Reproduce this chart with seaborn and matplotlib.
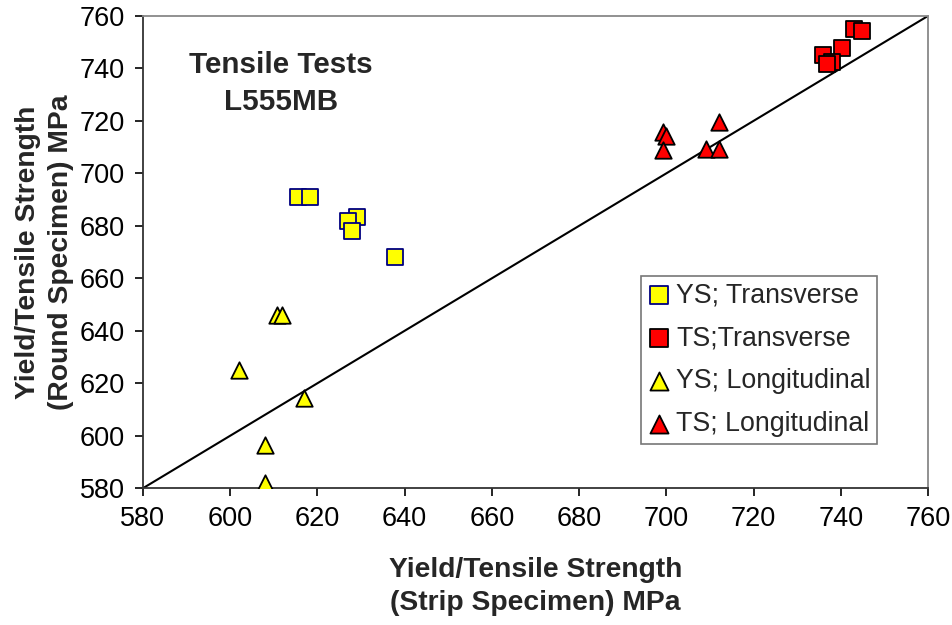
import pandas as pd
import matplotlib.pyplot as plt
import seaborn as sns

# Strip specimen (x) vs round specimen (y), MPa
ys_trans_x = [615.6, 618.3, 629.2, 627.0, 627.9, 637.8]
ys_trans_y = [691.0, 691.0, 683.2, 681.8, 678.2, 668.2]

ts_trans_x = [743.1, 744.8, 740.2, 735.9, 737.9, 736.8]
ts_trans_y = [754.9, 754.1, 747.8, 745.0, 742.4, 741.8]

ys_long_x = [610.7, 612.0, 602.0, 617.0, 608.0, 608.0]
ys_long_y = [646.0, 646.0, 625.1, 614.3, 596.5, 582.1]

ts_long_x = [699.2, 699.9, 699.2, 712.1, 709.1, 712.1]
ts_long_y = [715.8, 714.2, 708.8, 719.6, 709.4, 709.4]

series_names = ["YS; Transverse", "TS;Transverse", "YS; Longitudinal", "TS; Longitudinal"]
axis_range = [580, 760]
ticks = list(range(580, 761, 20))

sns.set_style("white")
plt.rcParams['font.family'] = ['Liberation Sans', 'DejaVu Sans']

fig = plt.figure(figsize=(9.52, 6.25), dpi=100)
ax = fig.add_axes([0.150, 0.2187, 0.825, 0.756])

# 1:1 reference line
ax.plot(axis_range, axis_range, color='black', lw=1.5, zorder=1)

series = [
    (ys_trans_x, ys_trans_y, 's', '#FFFF00', '#000080'),
    (ts_trans_x, ts_trans_y, 's', '#FF0000', '#000000'),
    (ys_long_x, ys_long_y, '^', '#FFFF00', '#000000'),
    (ts_long_x, ts_long_y, '^', '#FF0000', '#000000'),
]
for name, (xs, ys, mk, fc, ec) in zip(series_names, series):
    df = pd.DataFrame({'strip': xs, 'round': ys})
    sns.scatterplot(data=df, x='strip', y='round', ax=ax, marker=mk, s=140,
                    color=fc, edgecolor=ec, linewidth=1.3, label=name, zorder=3)

ax.set_xlim(axis_range)
ax.set_ylim(axis_range)
ax.set_xticks(ticks)
ax.set_yticks(ticks)
ax.tick_params(axis='both', labelsize=19.5, direction='out', length=6, width=1.2,
               bottom=True, left=True, pad=7, colors='black')

for side in ['left', 'bottom']:
    ax.spines[side].set_color('#333333')
    ax.spines[side].set_linewidth(1.3)
for side in ['top', 'right']:
    ax.spines[side].set_color('#888888')
    ax.spines[side].set_linewidth(1.3)

ax.set_xlabel("Yield/Tensile Strength\n(Strip Specimen) MPa", fontsize=20.3,
              fontweight='bold', labelpad=18, linespacing=1.35)
ax.set_ylabel("Yield/Tensile Strength\n(Round Specimen) MPa", fontsize=20.3,
              fontweight='bold', labelpad=4, linespacing=1.35)

ax.text(0.176, 0.856, "Tensile Tests\nL555MB", transform=ax.transAxes,
        ha='center', va='center', fontsize=21.3, fontweight='bold', linespacing=1.4)

leg = ax.legend(loc='upper right', bbox_to_anchor=(0.935, 0.45), fontsize=19.3,
                frameon=True, fancybox=False, edgecolor='#555555',
                handletextpad=0.25, labelspacing=0.63, borderpad=0.25,
                handlelength=0.8, borderaxespad=0, markerscale=1.1)
leg.get_frame().set_linewidth(1.2)

plt.savefig("out.png", dpi=100)
